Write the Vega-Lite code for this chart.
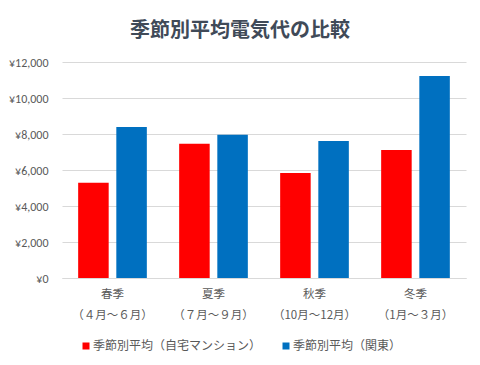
{
  "$schema": "https://vega.github.io/schema/vega-lite/v6.json",
  "width": 404,
  "height": 216,
  "autosize": {"type": "none"},
  "padding": {"left": 62, "top": 62, "right": 14, "bottom": 87},
  "background": "white",
  "title": {
    "text": "季節別平均電気代の比較",
    "anchor": "middle",
    "dx": -24,
    "offset": 15,
    "fontSize": 20,
    "fontWeight": "bold",
    "color": "#404a58",
    "font": "Noto Sans CJK JP"
  },
  "data": {
    "values": [
      {"season": "春季|（４月～６月）", "series": "季節別平均（自宅マンション）", "value": 5290},
      {"season": "春季|（４月～６月）", "series": "季節別平均（関東）", "value": 8390},
      {"season": "夏季|（７月～９月）", "series": "季節別平均（自宅マンション）", "value": 7460},
      {"season": "夏季|（７月～９月）", "series": "季節別平均（関東）", "value": 7960},
      {"season": "秋季|（10月～12月）", "series": "季節別平均（自宅マンション）", "value": 5830},
      {"season": "秋季|（10月～12月）", "series": "季節別平均（関東）", "value": 7610},
      {"season": "冬季|（1月～３月）", "series": "季節別平均（自宅マンション）", "value": 7110},
      {"season": "冬季|（1月～３月）", "series": "季節別平均（関東）", "value": 11220}
    ]
  },
  "mark": {"type": "bar"},
  "encoding": {
    "x": {
      "field": "season",
      "type": "nominal",
      "sort": null,
      "scale": {"paddingInner": 0.32, "paddingOuter": 0.16},
      "axis": {
        "title": null,
        "labelAngle": 0,
        "labelExpr": "split(datum.label, '|')",
        "labelLineHeight": 21,
        "labelFontSize": 11.5,
        "labelColor": "#595959",
        "labelFont": "Noto Sans CJK JP",
        "labelPadding": 10,
        "ticks": false,
        "domainColor": "#d9d9d9",
        "labelBaseline": "top"
      }
    },
    "xOffset": {"field": "series", "type": "nominal", "sort": null, "scale": {"paddingInner": 0.2}},
    "y": {
      "field": "value",
      "type": "quantitative",
      "scale": {"domain": [0, 12000]},
      "axis": {
        "title": null,
        "values": [0, 2000, 4000, 6000, 8000, 10000, 12000],
        "labelExpr": "'¥' + format(datum.value, ',')",
        "labelFontSize": 12,
        "labelColor": "#595959",
        "labelFont": "Calibri, Liberation Sans, sans-serif",
        "labelPadding": 14,
        "ticks": false,
        "domain": false,
        "gridColor": "#d9d9d9"
      }
    },
    "color": {
      "field": "series",
      "type": "nominal",
      "sort": null,
      "scale": {"range": ["#ff0000", "#0070c0"]},
      "legend": {
        "title": null,
        "orient": "none",
        "legendX": 18,
        "legendY": 278,
        "direction": "horizontal",
        "symbolType": "square",
        "symbolSize": 49,
        "symbolStrokeWidth": 0,
        "labelOffset": 1,
        "labelFontSize": 12,
        "labelColor": "#595959",
        "labelFont": "Noto Sans CJK JP",
        "labelLimit": 300,
        "columnPadding": 18
      }
    }
  },
  "config": {
    "view": {"stroke": null}
  }
}
